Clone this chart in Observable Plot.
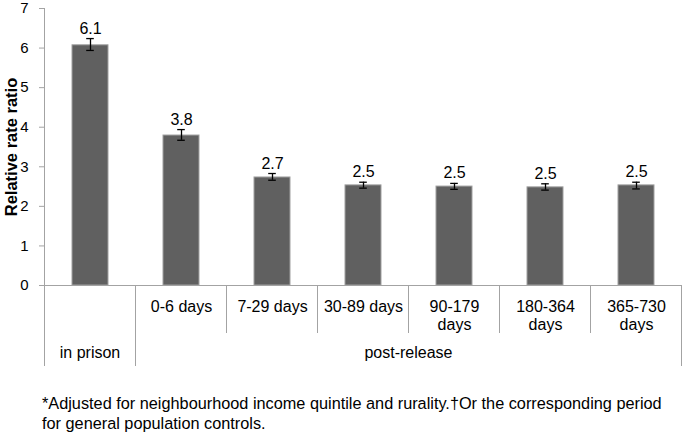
<!DOCTYPE html>
<html>
<head>
<meta charset="utf-8">
<script src="https://cdn.jsdelivr.net/npm/d3@7"></script>
<script src="https://cdn.jsdelivr.net/npm/@observablehq/plot@0.6"></script>
<style>
  body { margin: 0; background: #fff; }
  #chart { width: 685px; }
  .foot { font-family: "Liberation Sans", Arial, Helvetica, sans-serif; font-size: 16.3px; line-height: 20px; color: #000; margin-left: 42px; width: 640px; margin-top: 8px; }
</style>
</head>
<body>
<div id="chart"></div>
<script>
const categories = ["in prison", "0-6 days", "7-29 days", "30-89 days", "90-179 days", "180-364 days", "365-730 days"];
const categoryLabels = ["", "0-6 days", "7-29 days", "30-89 days", "90-179\ndays", "180-364\ndays", "365-730\ndays"];
const values = [6.07, 3.79, 2.73, 2.53, 2.50, 2.48, 2.53];
const lower = [5.94, 3.67, 2.66, 2.46, 2.43, 2.41, 2.44];
const upper = [6.24, 3.94, 2.83, 2.61, 2.58, 2.57, 2.61];
const valueLabels = ["6.1", "3.8", "2.7", "2.5", "2.5", "2.5", "2.5"];
const groups = ["in prison", "post-release"];
const groupFirst = [0, 1];
const groupLast = [0, 6];
const yTicks = [0, 1, 2, 3, 4, 5, 6, 7];
const yLabel = "Relative rate ratio";
const footnote = "*Adjusted for neighbourhood income quintile and rurality.\u2020Or the corresponding period for general population controls.";

const rows = categories.map((c, i) => ({category: c, label: categoryLabels[i], value: values[i], lo: lower[i], hi: upper[i], text: valueLabels[i]}));

const gridColor = "#a3a3a3";

function tableMark(index, scales, vals, dims) {
  const x = scales.x, y = scales.y;
  const bw = typeof x.bandwidth === "function" ? x.bandwidth() : x.bandwidth;
  const step = x(categories[1]) - x(categories[0]);
  const center = i => x(categories[i]) + bw / 2;
  const left = i => center(i) - step / 2;
  const right = i => center(i) + step / 2;
  const y0 = y(0);
  const yTop = y(d3.max(yTicks));
  const row1 = y0 + 48;
  const row2 = y0 + 81;
  const g = d3.create("svg:g");
  const line = (x1, y1, x2, y2) => g.append("line").attr("x1", x1).attr("y1", y1).attr("x2", x2).attr("y2", y2)
    .attr("stroke", gridColor).attr("stroke-width", 1).attr("shape-rendering", "crispEdges");
  line(left(0), yTop, left(0), row2);
  line(left(0), y0, right(categories.length - 1), y0);
  groupFirst.forEach((f) => { if (f > 0) line(left(f), y0, left(f), row2); });
  line(right(categories.length - 1), y0, right(categories.length - 1), row2);
  for (let i = 2; i < categories.length; i++) line(left(i), y0, left(i), row1);
  groups.forEach((name, gi) => {
    const cx = (left(groupFirst[gi]) + right(groupLast[gi])) / 2;
    g.append("text").attr("x", cx).attr("y", y0 + 73).attr("text-anchor", "middle")
      .attr("font-size", 16).attr("fill", "black").text(name);
  });
  return g.node();
}

const plot = Plot.plot({
  width: 685,
  height: 385,
  marginTop: 8,
  marginBottom: 100,
  marginLeft: 44,
  marginRight: 2,
  style: {fontFamily: "'Liberation Sans', Arial, Helvetica, sans-serif", background: "white", overflow: "visible"},
  x: {domain: categories, paddingInner: 0.6, paddingOuter: 0.3, axis: null},
  y: {domain: [0, 7], axis: null},
  marks: [
    Plot.barY(rows, {x: "category", y: "value", fill: "#606060", stroke: "#a0a0a0", strokeWidth: 1}),
    Plot.ruleX(rows, {x: "category", y1: "lo", y2: "hi", stroke: "black", strokeWidth: 1.3}),
    Plot.tickY(rows, {x: "category", y: "lo", stroke: "black", strokeWidth: 1.3, insetLeft: 14.2, insetRight: 14.2}),
    Plot.tickY(rows, {x: "category", y: "hi", stroke: "black", strokeWidth: 1.3, insetLeft: 14.2, insetRight: 14.2}),
    Plot.text(rows, {x: "category", y: "hi", text: "text", dy: -5, lineAnchor: "bottom", fontSize: 16, fill: "black"}),
    Plot.axisY({ticks: yTicks, tickSize: 5, tickPadding: 11, fontSize: 15, label: null, stroke: gridColor, fill: "black", tickFormat: d => String(d)}),
    Plot.text([yLabel], {frameAnchor: "left", text: d => d, rotate: -90, textAnchor: "middle", lineAnchor: "middle", dx: -33, fontSize: 16.5, fontWeight: "bold", fill: "black"}),
    Plot.text(rows, {x: "category", text: "label", frameAnchor: "bottom", lineAnchor: "top", dy: 13.5, fontSize: 16, lineHeight: 1.125, fill: "black"}),
    tableMark
  ]
});
document.getElementById("chart").appendChild(plot);
const foot = document.createElement("div");
foot.className = "foot";
foot.textContent = footnote;
document.body.appendChild(foot);
</script>
</body>
</html>
